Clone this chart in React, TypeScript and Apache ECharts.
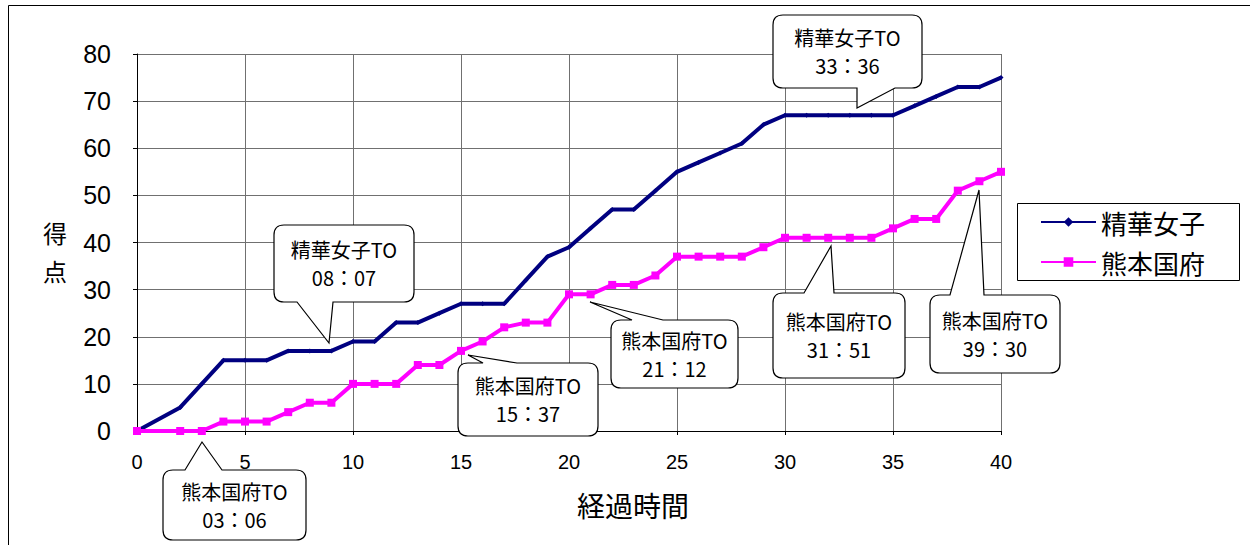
import React, { useEffect, useRef } from "react";
import * as echarts from "echarts";

const minutes = [0, 2, 3, 4, 5, 6, 7, 8, 9, 10, 11, 12, 13, 14, 15, 16, 17, 18, 19, 20, 21, 22, 23, 24, 25, 26, 27, 28, 29, 30, 31, 32, 33, 34, 35, 36, 37, 38, 39, 40];
const seika = [0, 5, 10, 15, 15, 15, 17, 17, 17, 19, 19, 23, 23, 25, 27, 27, 27, 32, 37, 39, 43, 47, 47, 51, 55, 57, 59, 61, 65, 67, 67, 67, 67, 67, 67, 69, 71, 73, 73, 75];
const kumamoto = [0, 0, 0, 2, 2, 2, 4, 6, 6, 10, 10, 10, 14, 14, 17, 19, 22, 23, 23, 29, 29, 31, 31, 33, 37, 37, 37, 37, 39, 41, 41, 41, 41, 41, 43, 45, 45, 51, 53, 55];
const seriesNames = ["精華女子", "熊本国府"];
const calloutTeams = ["熊本国府TO", "精華女子TO", "熊本国府TO", "熊本国府TO", "精華女子TO", "熊本国府TO", "熊本国府TO"];
const calloutTimes = ["03：06", "08：07", "15：37", "21：12", "33：36", "31：51", "39：30"];

// callout layout (pixels): box l,t,r,b ; tail side, base x1,x2 ; tip
const calloutLayout = [
  { l: 163, t: 470, r: 306, b: 540, side: "top", x1: 185, x2: 222, tx: 202, ty: 442 },
  { l: 274, t: 225, r: 414, b: 302, side: "bottom", x1: 297, x2: 333, tx: 329, ty: 343 },
  { l: 458, t: 363, r: 598, b: 436, side: "top", x1: 483, x2: 517, tx: 468, ty: 355 },
  { l: 611, t: 320, r: 738, b: 388, side: "top", x1: 632, x2: 663, tx: 590, ty: 302 },
  { l: 773, t: 15, r: 922, b: 88, side: "bottom", x1: 857, x2: 895, tx: 857, ty: 108 },
  { l: 773, t: 293, r: 905, b: 378, side: "top", x1: 804, x2: 834, tx: 831, ty: 246 },
  { l: 930, t: 295, r: 1060, b: 373, side: "top", x1: 950, x2: 984, tx: 979, ty: 190 },
];

function calloutPath(c: any): string {
  const rr = 10;
  const { l, t, r, b } = c;
  let d = `M${l + rr} ${t}`;
  if (c.side === "top") d += ` L${c.x1} ${t} L${c.tx} ${c.ty} L${c.x2} ${t}`;
  d += ` L${r - rr} ${t} Q${r} ${t} ${r} ${t + rr} L${r} ${b - rr} Q${r} ${b} ${r - rr} ${b}`;
  if (c.side === "bottom") d += ` L${c.x2} ${b} L${c.tx} ${c.ty} L${c.x1} ${b}`;
  d += ` L${l + rr} ${b} Q${l} ${b} ${l} ${b - rr} L${l} ${t + rr} Q${l} ${t} ${l + rr} ${t} Z`;
  return d;
}

const JP = "'Noto Sans CJK JP', 'Noto Sans', sans-serif";
const NUM = "'Liberation Sans', Arial, sans-serif";

export default function App() {
  const ref = useRef<HTMLDivElement>(null);
  useEffect(() => {
    if (!ref.current) return;
    calloutLayout.forEach((c, i) => {
      echarts.graphic.registerShape("callout" + i, echarts.graphic.extendPath(calloutPath(c), {}) as any);
    });
    const chart = echarts.init(ref.current, null, { renderer: "svg" });
    const graphics: any[] = [
      { type: "rect", shape: { x: 8.5, y: 5.5, width: 1260, height: 560 }, style: { fill: "none", stroke: "#000", lineWidth: 1 }, z: 0 },
      { type: "text", x: 55, y: 251, style: { text: "得\n点", fontSize: 24, lineHeight: 38, fontFamily: JP, fill: "#000", align: "center", verticalAlign: "middle" } },
      { type: "text", x: 633, y: 505, style: { text: "経過時間", fontSize: 28, fontFamily: JP, fill: "#000", align: "center", verticalAlign: "middle" } },
      { type: "rect", shape: { x: 1017.5, y: 203.5, width: 222, height: 77 }, style: { fill: "#fff", stroke: "#000", lineWidth: 1 }, z: 1 },
    ];
    calloutLayout.forEach((c, i) => {
      graphics.push({ type: "callout" + i, x: 0, y: 0, style: { fill: "#fff", stroke: "#000", lineWidth: 1.2 }, z: 50 });
      graphics.push({
        type: "text",
        x: (c.l + c.r) / 2,
        y: (c.t + c.b) / 2,
        z: 51,
        style: { text: calloutTeams[i] + "\n" + calloutTimes[i], fontSize: 20, lineHeight: 28, fontFamily: JP, fill: "#000", align: "center", verticalAlign: "middle" },
      });
    });
    chart.setOption({
      animation: false,
      backgroundColor: "#fff",
      grid: { left: 137, right: 249, top: 54, bottom: 114, containLabel: false },
      xAxis: {
        type: "value",
        min: 0,
        max: 40,
        interval: 5,
        axisLine: { show: true, lineStyle: { color: "#000", width: 1 } },
        axisTick: { show: true, length: 4, lineStyle: { color: "#000" } },
        axisLabel: { fontSize: 20, color: "#000", fontFamily: NUM, margin: 21 },
        splitLine: { show: true, lineStyle: { color: "#707070", width: 1 } },
      },
      yAxis: {
        type: "value",
        min: 0,
        max: 80,
        interval: 10,
        axisLine: { show: true, lineStyle: { color: "#000", width: 1 } },
        axisTick: { show: true, length: 4, lineStyle: { color: "#000" } },
        axisLabel: { fontSize: 25, color: "#000", fontFamily: NUM, margin: 26 },
        splitLine: { show: true, lineStyle: { color: "#707070", width: 1 } },
      },
      legend: {
        orient: "vertical",
        left: 1040,
        top: 207,
        padding: 0,
        itemGap: 10,
        itemWidth: 55,
        itemHeight: 12,
        data: seriesNames,
        textStyle: { fontSize: 26, lineHeight: 30, fontFamily: JP, color: "#000" },
        z: 5,
      },
      graphic: graphics,
      series: [
        {
          name: seriesNames[0],
          type: "line",
          data: minutes.map((m, i) => [m, seika[i]]),
          color: "#000080",
          lineStyle: { width: 4, color: "#000080" },
          symbol: "diamond",
          symbolSize: 5,
          itemStyle: { color: "#000080" },
          z: 3,
        },
        {
          name: seriesNames[1],
          type: "line",
          data: minutes.map((m, i) => [m, kumamoto[i]]),
          color: "#FF00FF",
          lineStyle: { width: 4, color: "#FF00FF" },
          symbol: "rect",
          symbolSize: 8,
          itemStyle: { color: "#FF00FF" },
          z: 3,
        },
      ],
    });
    return () => chart.dispose();
  }, []);
  return <div ref={ref} style={{ position: "fixed", left: 0, top: 0, width: 1250, height: 545 }} />;
}
